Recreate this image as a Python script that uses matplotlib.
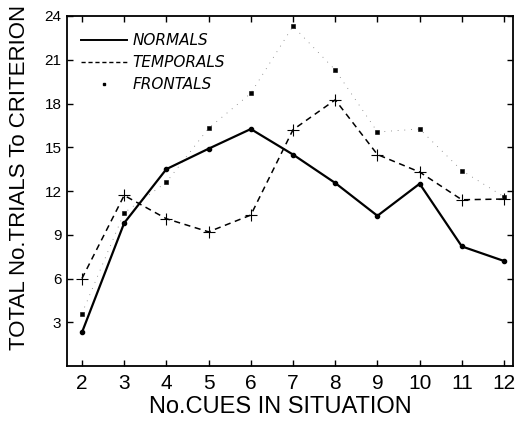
import matplotlib
matplotlib.use("Agg")
import matplotlib.pyplot as plt
from matplotlib.lines import Line2D

cues = [2, 3, 4, 5, 6, 7, 8, 9, 10, 11, 12]
normals = [2.3, 9.8, 13.5, 14.9, 16.25, 14.5, 12.55, 10.3, 12.5, 8.2, 7.2]
temporals = [6.0, 11.7, 10.1, 9.2, 10.35, 16.2, 18.25, 14.5, 13.3, 11.4, 11.45]
frontals = [3.6, 10.5, 12.6, 16.3, 18.7, 23.3, 20.3, 16.05, 16.25, 13.4, 11.6]
yticks = [3, 6, 9, 12, 15, 18, 21, 24]
xticks = cues

fig = plt.figure(figsize=(5.15, 4.21), dpi=100)
ax = fig.add_axes([0.130, 0.1306, 0.866, 0.8314])

ax.plot(cues, frontals, color="#777777", linestyle=(0, (1, 7)), linewidth=0.6)
ax.plot(cues, frontals, color="black", linestyle="none",
        marker="s", markersize=2.3, markerfacecolor="black", markeredgewidth=0.4)
ax.plot(cues, temporals, color="black", linestyle=(0, (4, 3)), linewidth=1.1,
        marker="+", markersize=8, markeredgewidth=0.8)
ax.plot(cues, normals, color="black", linestyle="-", linewidth=1.6,
        marker="o", markersize=3)

ax.set_xlim(1.645, 12.21)
ax.set_ylim(0, 24)
ax.set_xticks(xticks)
ax.set_yticks(yticks)
ax.set_xticklabels([str(v) for v in xticks], fontsize=15, family="Liberation Sans")
ax.set_yticklabels([str(v) for v in yticks], fontsize=11, family="Liberation Sans")
ax.tick_params(axis="both", direction="in", length=4, width=1, top=True, right=True)
ax.tick_params(axis="x", pad=6)
ax.tick_params(axis="y", pad=4)
for s in ax.spines.values():
    s.set_linewidth(1.3)

ax.set_xlabel("No.CUES IN SITUATION", fontsize=17, family="Liberation Sans")
ax.xaxis.set_label_coords(0.478, -0.085)
ax.set_ylabel("TOTAL No.TRIALS To CRITERION", fontsize=16, family="Liberation Sans")
ax.yaxis.set_label_coords(-0.083, 0.54)

handles = [
    Line2D([], [], color="black", linestyle="-", linewidth=1.4),
    Line2D([], [], color="black", linestyle=(0, (3, 2)), linewidth=1.0),
    Line2D([], [], color="black", linestyle="none", marker="s", markersize=2),
]
labels = ["NORMALS", "TEMPORALS", "FRONTALS"]
leg = ax.legend(handles, labels, loc="upper left", frameon=False, handlelength=3.0,
                bbox_to_anchor=(0.0, 0.99), labelspacing=0.45, handletextpad=0.4,
                prop={"size": 11, "style": "italic", "family": "DejaVu Sans"})

fig.savefig("out.png", dpi=100)
